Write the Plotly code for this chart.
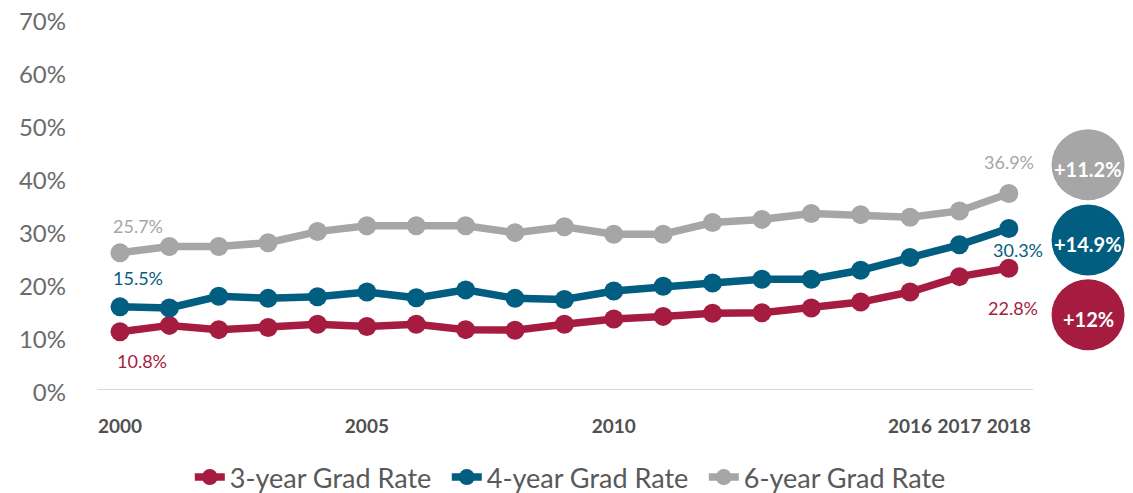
import plotly.graph_objects as go

years = list(range(2000, 2019))
rate_3yr = [10.8, 12.0, 11.2, 11.6, 12.2, 11.8, 12.2, 11.2, 11.1, 12.2, 13.2, 13.7, 14.3, 14.4, 15.3, 16.4, 18.3, 21.2, 22.8]
rate_4yr = [15.5, 15.3, 17.5, 17.1, 17.4, 18.3, 17.2, 18.7, 17.1, 16.9, 18.5, 19.4, 20.0, 20.7, 20.7, 22.4, 24.8, 27.2, 30.3]
rate_6yr = [25.7, 26.9, 26.9, 27.6, 29.7, 30.8, 30.8, 30.8, 29.5, 30.6, 29.2, 29.2, 31.4, 32.0, 33.1, 32.9, 32.4, 33.6, 36.9]
series_names = ["3-year Grad Rate", "4-year Grad Rate", "6-year Grad Rate"]
changes = ["+12%", "+14.9%", "+11.2%"]
x_ticks = [2000, 2005, 2010, 2016, 2017, 2018]
y_ticks = [0, 10, 20, 30, 40, 50, 60, 70]

RED = "#A51C40"
BLUE = "#025E80"
GRAY = "#A6A6A6"
colors = [RED, BLUE, GRAY]
series = [rate_3yr, rate_4yr, rate_6yr]

FONT = "Lato"

fig = go.Figure()
for name, vals, col in zip(series_names, series, colors):
    fig.add_trace(go.Scatter(
        x=years, y=vals, name=name, mode="lines+markers",
        line=dict(color=col, width=7.5),
        marker=dict(color=col, size=19),
        hoverinfo="skip",
    ))

annotations = []
# start / end data labels
label_cfg = [
    # (series idx, year idx, xshift, yshift)
    (2, 0, 18, 27), (1, 0, 18, 29), (0, 0, 22, -29),
    (2, -1, 0, 31), (1, -1, 9, -22), (0, -1, 4, -40),
]
for si, yi, xs, ys in label_cfg:
    v = series[si][yi]
    annotations.append(dict(
        x=years[yi], y=v, xref="x", yref="y", text=f"{v:.1f}%",
        showarrow=False, xshift=xs, yshift=ys,
        xanchor="center", yanchor="middle",
        font=dict(family=FONT, size=18, color=colors[si]),
    ))

# change bubbles
circle_y = [14.0, 28.1, 42.3]
circle_x = 1.0588
shapes = []
for cy, col, txt in zip(circle_y, colors, changes):
    shapes.append(dict(
        type="circle", xref="paper", yref="y",
        xsizemode="pixel", ysizemode="pixel",
        xanchor=circle_x, yanchor=cy,
        x0=-36.5, x1=36.5, y0=-35.5, y1=35.5,
        fillcolor=col, line=dict(width=0), layer="below",
    ))
    annotations.append(dict(
        x=circle_x, y=cy, xref="paper", yref="y", text=f"<b>{txt}</b>",
        showarrow=False, yshift=-4, xanchor="center", yanchor="middle",
        font=dict(family=FONT, size=20, color="white"),
    ))

# The page body has an 8px margin, so the figure is 8px smaller on each axis.
fig.update_layout(
    width=1125, height=485,
    margin=dict(l=89, r=100, t=10, b=104, autoexpand=False),
    paper_bgcolor="white", plot_bgcolor="white",
    font=dict(family=FONT),
    showlegend=True,
    legend=dict(
        orientation="h", x=0.511, xanchor="center", y=-0.2385, yanchor="middle",
        font=dict(family=FONT, size=27, color="#595959"),
        itemwidth=30, tracegroupgap=0,
        entrywidth=212, entrywidthmode="pixels",
    ),
    xaxis=dict(
        range=[1999.534, 2018.49], tickvals=x_ticks,
        ticktext=[f"<b>{t}</b>" for t in x_ticks],
        showgrid=False, zeroline=False, showline=True, linecolor="#D9D9D9", linewidth=1,
        ticks="", tickfont=dict(family=FONT, size=19, color="#505050"),
        ticklabelstandoff=20, automargin=False, ticklabeloverflow="allow",
    ),
    yaxis=dict(
        range=[0, 70], tickvals=y_ticks, ticktext=[f"{t}%" for t in y_ticks],
        showgrid=False, zeroline=False, showline=False, ticks="",
        tickfont=dict(family=FONT, size=24, color="#6B6B6B"),
        ticklabelstandoff=30, ticklabelshift=4,
        automargin=False, ticklabeloverflow="allow",
    ),
    annotations=annotations,
    shapes=shapes,
)

fig.write_html("out.html")
